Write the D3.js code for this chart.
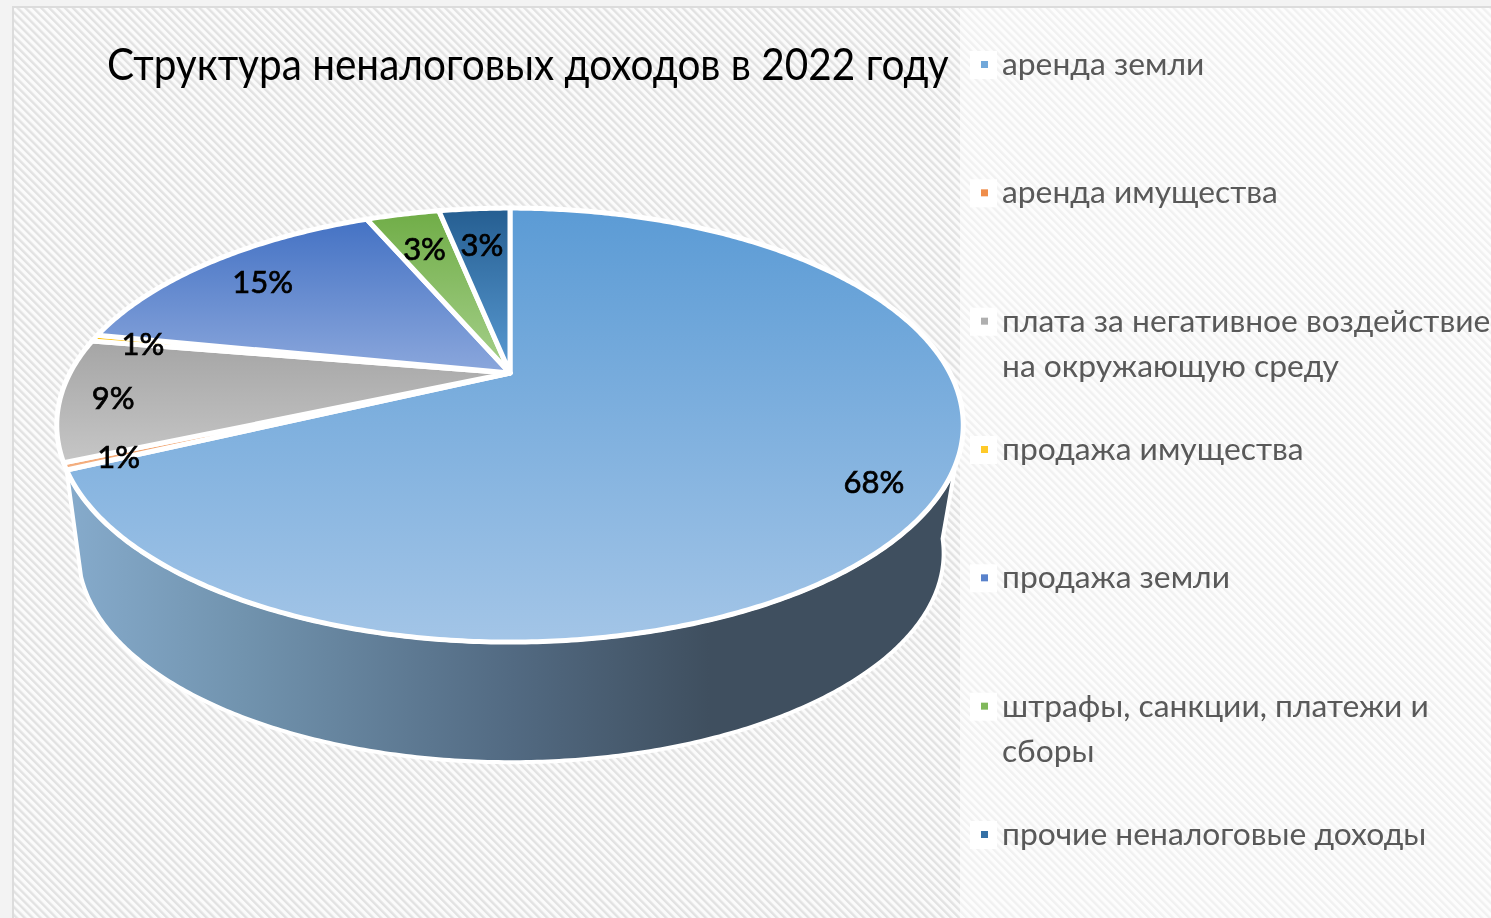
<!DOCTYPE html>
<html>
<head>
<meta charset="utf-8">
<script src="https://cdnjs.cloudflare.com/ajax/libs/d3/7.8.5/d3.min.js"></script>
<style>
html, body { margin: 0; padding: 0; background: #fff; overflow: hidden; }
svg { filter: blur(0.6px); }
text { font-family: Lato, "Open Sans", sans-serif; }
</style>
</head>
<body>
<svg id="chart" width="1491" height="918"></svg>
<script>
var title = "Структура неналоговых доходов в 2022 году";
var categories = [
    ["аренда земли"],
    ["аренда имущества"],
    ["плата за негативное воздействие", "на окружающую среду"],
    ["продажа имущества"],
    ["продажа земли"],
    ["штрафы, санкции, платежи и", "сборы"],
    ["прочие неналоговые доходы"]
];
var values = [68, 0.5, 9.1, 0.5, 15.4, 3.3, 3.2];
var topColors = ["#5b9bd5", "#ed7d31", "#a5a5a5", "#ffc000", "#4472c4", "#70ad47", "#255e91"];
var lowColors = ["#a3c5e7", "#f4b183", "#c6c6c6", "#ffe08a", "#8ba7dc", "#a6d08b", "#5a9bd3"];
var labelRadius = [0.87, 0.89, 0.885, 0.88, 0.81, 0.76, 0.75];

var svg = d3.select("#chart");
var defs = svg.append("defs");

// hatch behind everything
var hatch = defs.append("pattern").attr("id", "hatch")
    .attr("width", 5.6).attr("height", 5.6)
    .attr("patternUnits", "userSpaceOnUse")
    .attr("patternTransform", "rotate(-45)");
hatch.append("rect").attr("width", 5.6).attr("height", 5.6).attr("fill", "#fbfbfb");
hatch.append("rect").attr("width", 2.4).attr("height", 5.6).attr("fill", "#e2e2e2");

svg.append("rect").attr("width", 1491).attr("height", 918).attr("fill", "#f3f3f3");
svg.append("rect").attr("x", 13).attr("y", 7).attr("width", 1480).attr("height", 913)
    .attr("fill", "url(#hatch)").attr("stroke", "#dcdcdc").attr("stroke-width", 2);
svg.append("rect").attr("x", 960).attr("y", 8).attr("width", 531).attr("height", 910)
    .attr("fill", "#fff").attr("opacity", 0.5);

// the pie lies in perspective: the unit circle goes through a projection,
// so the apex sits above the middle of the ellipse
var persp = -0.24;
function project(cx, cy, a, b, angle, r) {
    var u = Math.sin(angle) * r, v = -Math.cos(angle) * r;
    var w = 1 + persp * v;
    return [cx + a * u / w, cy + b * v / w];
}
function topPoint(angle, r) { return project(510, 373, 440, 204.5, angle, r); }
function basePoint(angle) { return project(511, 503, 420, 197, angle, 1); }
function deg(a) { return a * Math.PI / 180; }

var arcs = d3.pie().sort(null)(values);
var line = d3.line();

function sweep(fn, a0, a1) {
    var n = Math.max(2, Math.ceil(Math.abs(a1 - a0) / 0.01));
    return d3.range(n + 1).map(function (i) {
        return fn(a0 + (a1 - a0) * i / n);
    });
}

// side wall of the big slice
var wallGrad = defs.append("linearGradient").attr("id", "wall")
    .attr("gradientUnits", "userSpaceOnUse")
    .attr("x1", 65).attr("x2", 960).attr("y1", 0).attr("y2", 0);
wallGrad.append("stop").attr("offset", 0).attr("stop-color", "#86abcc");
wallGrad.append("stop").attr("offset", 0.2).attr("stop-color", "#7193ae");
wallGrad.append("stop").attr("offset", 0.5).attr("stop-color", "#526a82");
wallGrad.append("stop").attr("offset", 0.72).attr("stop-color", "#3f4f5f");
wallGrad.append("stop").attr("offset", 1).attr("stop-color", "#3f4f5f");

var wallPoints = sweep(function (a) { return topPoint(a, 1); }, deg(114), arcs[0].endAngle)
    .concat(sweep(basePoint, deg(250), deg(100)));
svg.append("path").attr("d", line(wallPoints) + "Z")
    .attr("fill", "url(#wall)").attr("stroke", "#fff").attr("stroke-width", 4)
    .attr("stroke-linejoin", "round");

// top face
arcs.forEach(function (d, i) {
    var g = defs.append("linearGradient").attr("id", "slice" + i)
        .attr("x1", 0).attr("x2", 0).attr("y1", 0).attr("y2", 1);
    g.append("stop").attr("offset", 0).attr("stop-color", topColors[i]);
    g.append("stop").attr("offset", 1).attr("stop-color", lowColors[i]);
});

svg.append("g").selectAll("path").data(arcs).join("path")
    .attr("d", function (d) {
        var pts = sweep(function (a) { return topPoint(a, 1); }, d.startAngle, d.endAngle);
        return line([topPoint(0, 0)].concat(pts)) + "Z";
    })
    .attr("fill", function (d, i) { return "url(#slice" + i + ")"; })
    .attr("stroke", "#fff").attr("stroke-width", 5).attr("stroke-linejoin", "round");

// percent labels
svg.append("g").selectAll("text").data(arcs).join("text")
    .attr("transform", function (d, i) {
        var p = topPoint((d.startAngle + d.endAngle) / 2, labelRadius[i]);
        return "translate(" + p[0] + "," + (p[1] + 2) + ")";
    })
    .attr("text-anchor", "middle").attr("dy", "0.35em")
    .attr("font-size", 31).attr("fill", "#000")
    .attr("stroke", "#000").attr("stroke-width", 0.7)
    .text(function (d) { return Math.round(d.value) + "%"; });

// title is narrower than Lato, squeeze it to the width in the picture
var titleText = svg.append("text").attr("font-size", 45).attr("fill", "#000").text(title);
var titleScale = 842 / titleText.node().getComputedTextLength();
titleText.attr("transform", "translate(107,80) scale(" + titleScale + ",1)");

// legend
var legendY = d3.scaleLinear().domain([0, 6]).range([65, 835]);
var rows = svg.append("g").selectAll("g").data(categories).join("g")
    .attr("transform", function (d, i) { return "translate(0," + legendY(i) + ")"; });
rows.append("rect").attr("x", 970).attr("y", -14).attr("width", 27).attr("height", 28)
    .attr("fill", "#fff");
rows.append("rect").attr("x", 981).attr("y", -4).attr("width", 7).attr("height", 7)
    .attr("fill", function (d, i) { return d3.interpolateRgb(topColors[i], lowColors[i])(0.3); });
rows.append("text").attr("fill", "#595959").attr("font-size", 31.8)
    .selectAll("tspan").data(function (d) { return d; }).join("tspan")
    .attr("x", 1002)
    .attr("y", function (d, i) { return 10 + i * 45; })
    .text(function (d) { return d; });
</script>
</body>
</html>
